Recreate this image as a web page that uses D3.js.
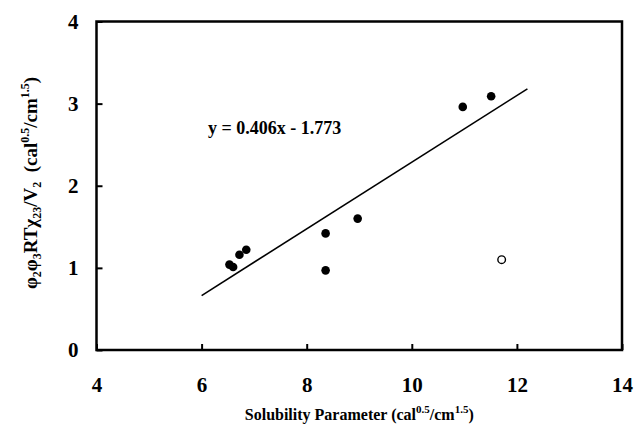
<!DOCTYPE html>
<html><head><meta charset="utf-8">
<script src="https://cdn.jsdelivr.net/npm/d3@7"></script>
<style>
body{margin:0;background:#fff;}
svg text{font-family:"Liberation Serif","DejaVu Serif","Times New Roman",serif !important;font-weight:bold !important;fill:#000;}
</style></head>
<body><svg id="c" width="636" height="433" style="display:block"></svg>
<script>
const xTicks = [4, 6, 8, 10, 12, 14];
const yTicks = [0, 1, 2, 3, 4];
const filledX = [6.53, 6.60, 6.72, 6.85, 8.36, 8.36, 8.97, 10.97, 11.51];
const filledY = [1.04, 1.01, 1.16, 1.22, 1.42, 0.97, 1.60, 2.96, 3.09];
const openX = [11.71];
const openY = [1.10];
const slope = 0.406, intercept = -1.773;
const fitRange = [6.0, 12.2];
const equationText = "y = 0.406x - 1.773";

const svg = d3.select("#c");
const m = {l: 96.5, r: 622, t: 21.5, b: 350};
const x = d3.scaleLinear().domain([4, 14]).range([m.l, m.r]);
const y = d3.scaleLinear().domain([0, 4]).range([m.b, m.t]);

const xa = svg.append("g").attr("transform", `translate(0,${m.b})`)
  .call(d3.axisBottom(x).tickValues(xTicks).tickSizeInner(-6).tickSizeOuter(0).tickPadding(27).tickFormat(d3.format("d")));
xa.select(".domain").remove();
xa.selectAll("line").attr("stroke", "#000").attr("stroke-width", 2);
xa.selectAll("text").style("font-size", "21px");

const ya = svg.append("g").attr("transform", `translate(${m.l},0)`)
  .call(d3.axisLeft(y).tickValues(yTicks).tickSizeInner(-6).tickSizeOuter(0).tickPadding(18).tickFormat(d3.format("d")));
ya.select(".domain").remove();
ya.selectAll("line").attr("stroke", "#000").attr("stroke-width", 2);
ya.selectAll("text").style("font-size", "21px");

svg.append("rect").attr("x", m.l).attr("y", m.t).attr("width", m.r - m.l).attr("height", m.b - m.t)
  .attr("fill", "none").attr("stroke", "#000").attr("stroke-width", 2.5);

const line = d3.line().x(d => x(d)).y(d => y(slope * d + intercept));
svg.append("path").datum(fitRange).attr("d", line).attr("stroke", "#000").attr("stroke-width", 1.6).attr("fill", "none");

svg.append("g").selectAll("circle").data(filledX.map((v, i) => [v, filledY[i]])).join("circle")
  .attr("cx", d => x(d[0])).attr("cy", d => y(d[1])).attr("r", 4.3).attr("fill", "#000");
svg.append("g").selectAll("circle").data(openX.map((v, i) => [v, openY[i]])).join("circle")
  .attr("cx", d => x(d[0])).attr("cy", d => y(d[1])).attr("r", 3.8).attr("fill", "#fff").attr("stroke", "#000").attr("stroke-width", 1.4);

svg.append("text").attr("x", 208).attr("y", 134).style("font-size", "18px").text(equationText);

const xl = svg.append("text").attr("x", (m.l + m.r) / 2).attr("y", 420).attr("text-anchor", "middle").style("font-size", "16px");
xl.append("tspan").text("Solubility Parameter (cal");
xl.append("tspan").style("font-size", "11px").attr("dy", -7).text("0.5");
xl.append("tspan").attr("dy", 7).text("/cm");
xl.append("tspan").style("font-size", "11px").attr("dy", -7).text("1.5");
xl.append("tspan").attr("dy", 7).text(")");

const yl = svg.append("text").attr("transform", `translate(37,183) rotate(-90)`)
  .attr("text-anchor", "middle").style("font-size", "19px").attr("xml:space", "preserve");
yl.append("tspan").text("φ");
yl.append("tspan").style("font-size", "12px").attr("dy", 4).text("2");
yl.append("tspan").attr("dy", -4).text("φ");
yl.append("tspan").style("font-size", "12px").attr("dy", 4).text("3");
yl.append("tspan").attr("dy", -4).text("RTχ");
yl.append("tspan").style("font-size", "12px").attr("dy", 4).text("23");
yl.append("tspan").attr("dy", -4).text("/V");
yl.append("tspan").style("font-size", "12px").attr("dy", 4).text("2");
yl.append("tspan").attr("dy", -4).text("  (cal");
yl.append("tspan").style("font-size", "12px").attr("dy", -8).text("0.5");
yl.append("tspan").attr("dy", 8).text("/cm");
yl.append("tspan").style("font-size", "12px").attr("dy", -8).text("1.5");
yl.append("tspan").attr("dy", 8).text(")");
</script></body></html>
